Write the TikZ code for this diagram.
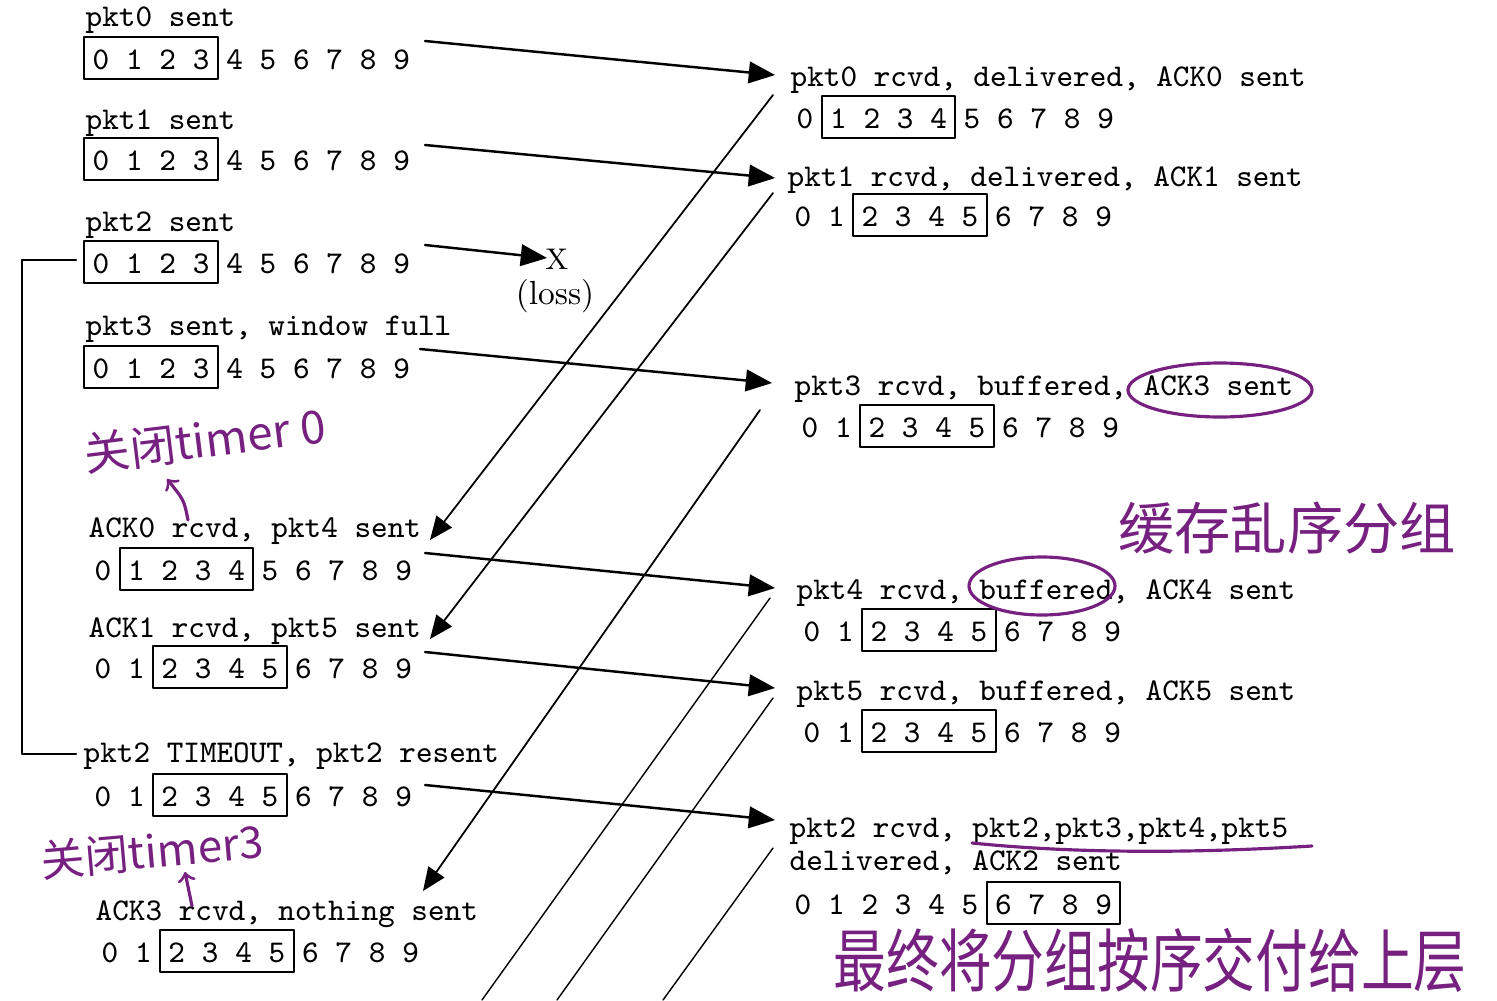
\documentclass[tikz,border=0pt]{standalone}
\usepackage{fontspec}
\newfontfamily\hand{Noto Sans CJK SC}
\usetikzlibrary{arrows}
\definecolor{pen}{RGB}{118,32,128}

% one row of sequence numbers, the window in a box
\newcommand{\seqrow}[5]{%
	\foreach \i in {0,...,9}
		\node[seqnum] (#1-\i) at ({#2+\i*33.4},#3) {\i};
	\draw [winbox] ({#2+#4*33.4-16.7},#3-32) rectangle ({#2+#5*33.4+16.7},#3+10);
}

\begin{document}
\begin{tikzpicture}[line cap=round,line join=round,>=triangle 45,x=0.01cm,y=-0.01cm,
	lbl/.style={anchor=base west,inner sep=0pt,font=\fontsize{9}{10}\ttfamily},
	seqnum/.style={anchor=base,inner sep=0pt,font=\fontsize{9}{10}\ttfamily},
	winbox/.style={line width=0.6pt},
	data/.style={->,line width=0.7pt},
	ack/.style={->,line width=0.5pt},
	note/.style={color=pen,inner sep=0pt},
	pencil/.style={color=pen,line width=0.9pt}]
		\useasboundingbox (0,0) rectangle (1497,1000);
		% sender
		\node[lbl] (s0t) at (85,27) {pkt0 sent};
		\seqrow{s0}{101}{69}{0}{3}
		\node[lbl] (s1t) at (85,129) {pkt1 sent};
		\seqrow{s1}{101}{170}{0}{3}
		\node[lbl] (s2t) at (85,231) {pkt2 sent};
		\seqrow{s2}{101}{273}{0}{3}
		\node[lbl] (s3t) at (85,335) {pkt3 sent, window full};
		\seqrow{s3}{101}{378}{0}{3}
		\node[lbl] (a0t) at (88,537) {ACK0 rcvd, pkt4 sent};
		\seqrow{a0}{103}{580}{1}{4}
		\node[lbl] (a1t) at (88,637) {ACK1 rcvd, pkt5 sent};
		\seqrow{a1}{103}{678}{2}{5}
		\node[lbl] (tot) at (83,762) {pkt2 TIMEOUT, pkt2 resent};
		\seqrow{to}{103}{806}{2}{5}
		\node[lbl] (a3t) at (95,920) {ACK3 rcvd, nothing sent};
		\seqrow{a3}{110}{962}{2}{5}
		% receiver
		\node[lbl] (r0t) at (790,86) {pkt0 rcvd, delivered, ACK0 sent};
		\seqrow{r0}{805}{128}{1}{4}
		\node[lbl] (r1t) at (787,186) {pkt1 rcvd, delivered, ACK1 sent};
		\seqrow{r1}{803}{226}{2}{5}
		\node[lbl] (r3t) at (794,395) {pkt3 rcvd, buffered, ACK3 sent};
		\seqrow{r3}{810}{437}{2}{5}
		\node[lbl] (r4t) at (796,599) {pkt4 rcvd, buffered, ACK4 sent};
		\seqrow{r4}{812}{641}{2}{5}
		\node[lbl] (r5t) at (796,700) {pkt5 rcvd, buffered, ACK5 sent};
		\seqrow{r5}{812}{742}{2}{5}
		\node[lbl] (r2t) at (789,837) {pkt2 rcvd, pkt2,pkt3,pkt4,pkt5};
		\node[lbl] (r2u) at (789,870) {delivered, ACK2 sent};
		\seqrow{r2}{803}{914}{6}{9}
		% data packets
		\coordinate (d0a) at (425,41); \coordinate (d0b) at (775,75);
		\coordinate (d1a) at (425,145); \coordinate (d1b) at (775,178);
		\coordinate (d2a) at (425,245); \coordinate (d2b) at (547,258);
		\coordinate (d3a) at (420,349); \coordinate (d3b) at (772,383);
		\coordinate (d4a) at (425,553); \coordinate (d4b) at (775,588);
		\coordinate (d5a) at (425,652); \coordinate (d5b) at (775,688);
		\coordinate (d6a) at (425,785); \coordinate (d6b) at (775,820);
		\draw [data] (d0a)-- (d0b);
		\draw [data] (d1a)-- (d1b);
		\draw [data] (d2a)-- (d2b);
		\draw [data] (d3a)-- (d3b);
		\draw [data] (d4a)-- (d4b);
		\draw [data] (d5a)-- (d5b);
		\draw [data] (d6a)-- (d6b);
		\node[inner sep=0pt,font=\fontsize{8.5}{9}\rmfamily] (lossx) at (557,259) {X};
		\node[inner sep=0pt,font=\fontsize{9.5}{10}\rmfamily] (loss) at (555,296) {(loss)};
		% acks
		\coordinate (k0a) at (773,95); \coordinate (k0b) at (430,540);
		\coordinate (k1a) at (773,193); \coordinate (k1b) at (430,639);
		\coordinate (k3a) at (760,410); \coordinate (k3b) at (423,891);
		\coordinate (k4a) at (770,598); \coordinate (k4b) at (482,1000);
		\coordinate (k5a) at (773,698); \coordinate (k5b) at (557,1000);
		\coordinate (k2a) at (773,848); \coordinate (k2b) at (663,1000);
		\draw [ack] (k0a)-- (k0b);
		\draw [ack] (k1a)-- (k1b);
		\draw [ack] (k3a)-- (k3b);
		\draw [line width=0.4pt] (k4a)-- (k4b);
		\draw [line width=0.4pt] (k5a)-- (k5b);
		\draw [line width=0.4pt] (k2a)-- (k2b);
		% timer of pkt2
		\coordinate (t0) at (76,260); \coordinate (t1) at (76,754);
		\draw [line width=0.6pt] (t0)-- ++(-54,0) |- (t1);
		% handwritten notes
		\node[note,rotate=7,font=\hand\fontsize{13}{13}\selectfont] (n0) at (205,440) {关闭timer 0};
		\coordinate (p0a) at (188,520); \coordinate (p0b) at (167,479);
		\draw [pencil,-to] (p0a) .. controls (184,500) .. (p0b);
		\node[note,rotate=5,font=\hand\fontsize{12.5}{13}\selectfont] (n1) at (152,851) {关闭timer3};
		\coordinate (p1a) at (192,906); \coordinate (p1b) at (185,872);
		\draw [pencil,-to] (p1a)-- (p1b);
		\node[note,font=\hand\fontsize{16}{16}\selectfont] (n2) at (1287,528) {缓存乱序分组};
		\node[note,font=\hand\fontsize{15}{16}\selectfont] (n3) at (1150,960) {\scalebox{1}[1.3]{最终将分组按序交付给上层}};
		\coordinate (c3) at (1220,390); \coordinate (c4) at (1042,586);
		\draw [pencil] (c3) ellipse [x radius=92,y radius=27];
		\draw [pencil] (c4) ellipse [x radius=73,y radius=29];
		\coordinate (u0) at (972,843); \coordinate (u1) at (1312,846);
		\draw [pencil] (u0) .. controls (1100,856) and (1230,851) .. (u1);
\end{tikzpicture}
\end{document}
